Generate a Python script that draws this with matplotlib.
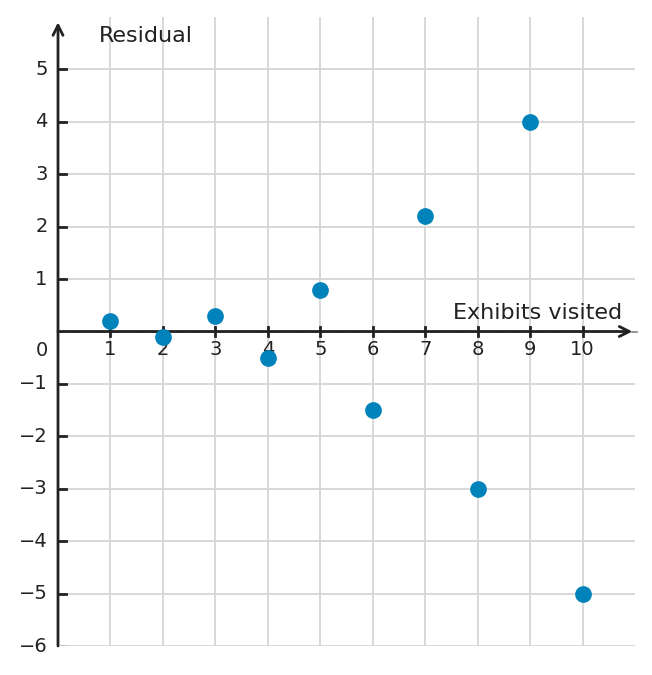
import matplotlib
matplotlib.use("Agg")
import matplotlib.pyplot as plt

exhibits = [1, 2, 3, 4, 5, 6, 7, 8, 9, 10]
residuals = [0.2, -0.1, 0.3, -0.5, 0.8, -1.5, 2.2, -3.0, 4.0, -5.0]
x_ticks = [1, 2, 3, 4, 5, 6, 7, 8, 9, 10]
y_ticks = [-6, -5, -4, -3, -2, -1, 1, 2, 3, 4, 5]

fig = plt.figure(figsize=(6.52, 6.75), dpi=100)
ax = fig.add_axes([58/652, (675-646)/675, (635-58)/652, (646-17)/675])
ax.set_xlim(0, 11)
ax.set_ylim(-6, 6)

for s in ['top', 'right', 'bottom', 'left']:
    ax.spines[s].set_visible(False)

grid_c = '#d6d6d6'
for xv in x_ticks:
    ax.plot([xv, xv], [-6, 6], color=grid_c, lw=1.3, zorder=0)
for yv in y_ticks + [0]:
    ax.plot([0, 11], [yv, yv], color=grid_c, lw=1.3, zorder=0)

axc = '#222222'
ax.plot([0, 11.1], [0, 0], color='#888888', lw=1.2, ls=(0, (4, 4)), zorder=1, clip_on=False)
ax.annotate('', xy=(10.95, 0), xytext=(0, 0),
            arrowprops=dict(arrowstyle='->', color=axc, lw=2, mutation_scale=18, shrinkA=0, shrinkB=0),
            zorder=3, annotation_clip=False)
ax.annotate('', xy=(0, 5.9), xytext=(0, -6),
            arrowprops=dict(arrowstyle='->', color=axc, lw=2, mutation_scale=18, shrinkA=0, shrinkB=0),
            zorder=3, annotation_clip=False)

ax.set_xticks([])
ax.set_yticks([])

fs_tick = 14
for xv in x_ticks:
    ax.plot([xv, xv], [-0.08, 0.08], color=axc, lw=2, zorder=3)
    ax.text(xv, -0.17, str(xv), ha='center', va='top', fontsize=fs_tick, color=axc)
for yv in y_ticks:
    ax.plot([0, 0.15], [yv, yv], color=axc if yv != -6 else '#777777', lw=2 if yv != -6 else 1, zorder=3)
    lab = str(yv).replace('-', '\u2212')
    ax.text(-0.2, yv, lab, ha='right', va='center', fontsize=fs_tick, color=axc)
ax.text(-0.2, -0.36, '0', ha='right', va='center', fontsize=fs_tick, color=axc)

ax.scatter(exhibits, residuals, s=145, color='#0083bb', zorder=4, linewidths=0)

ax.text(10.76, 0.17, 'Exhibits visited', ha='right', va='bottom', fontsize=16, color=axc)
ax.text(0.77, 5.63, 'Residual', ha='left', va='center', fontsize=16, color=axc)

fig.savefig('out.png', dpi=100)
